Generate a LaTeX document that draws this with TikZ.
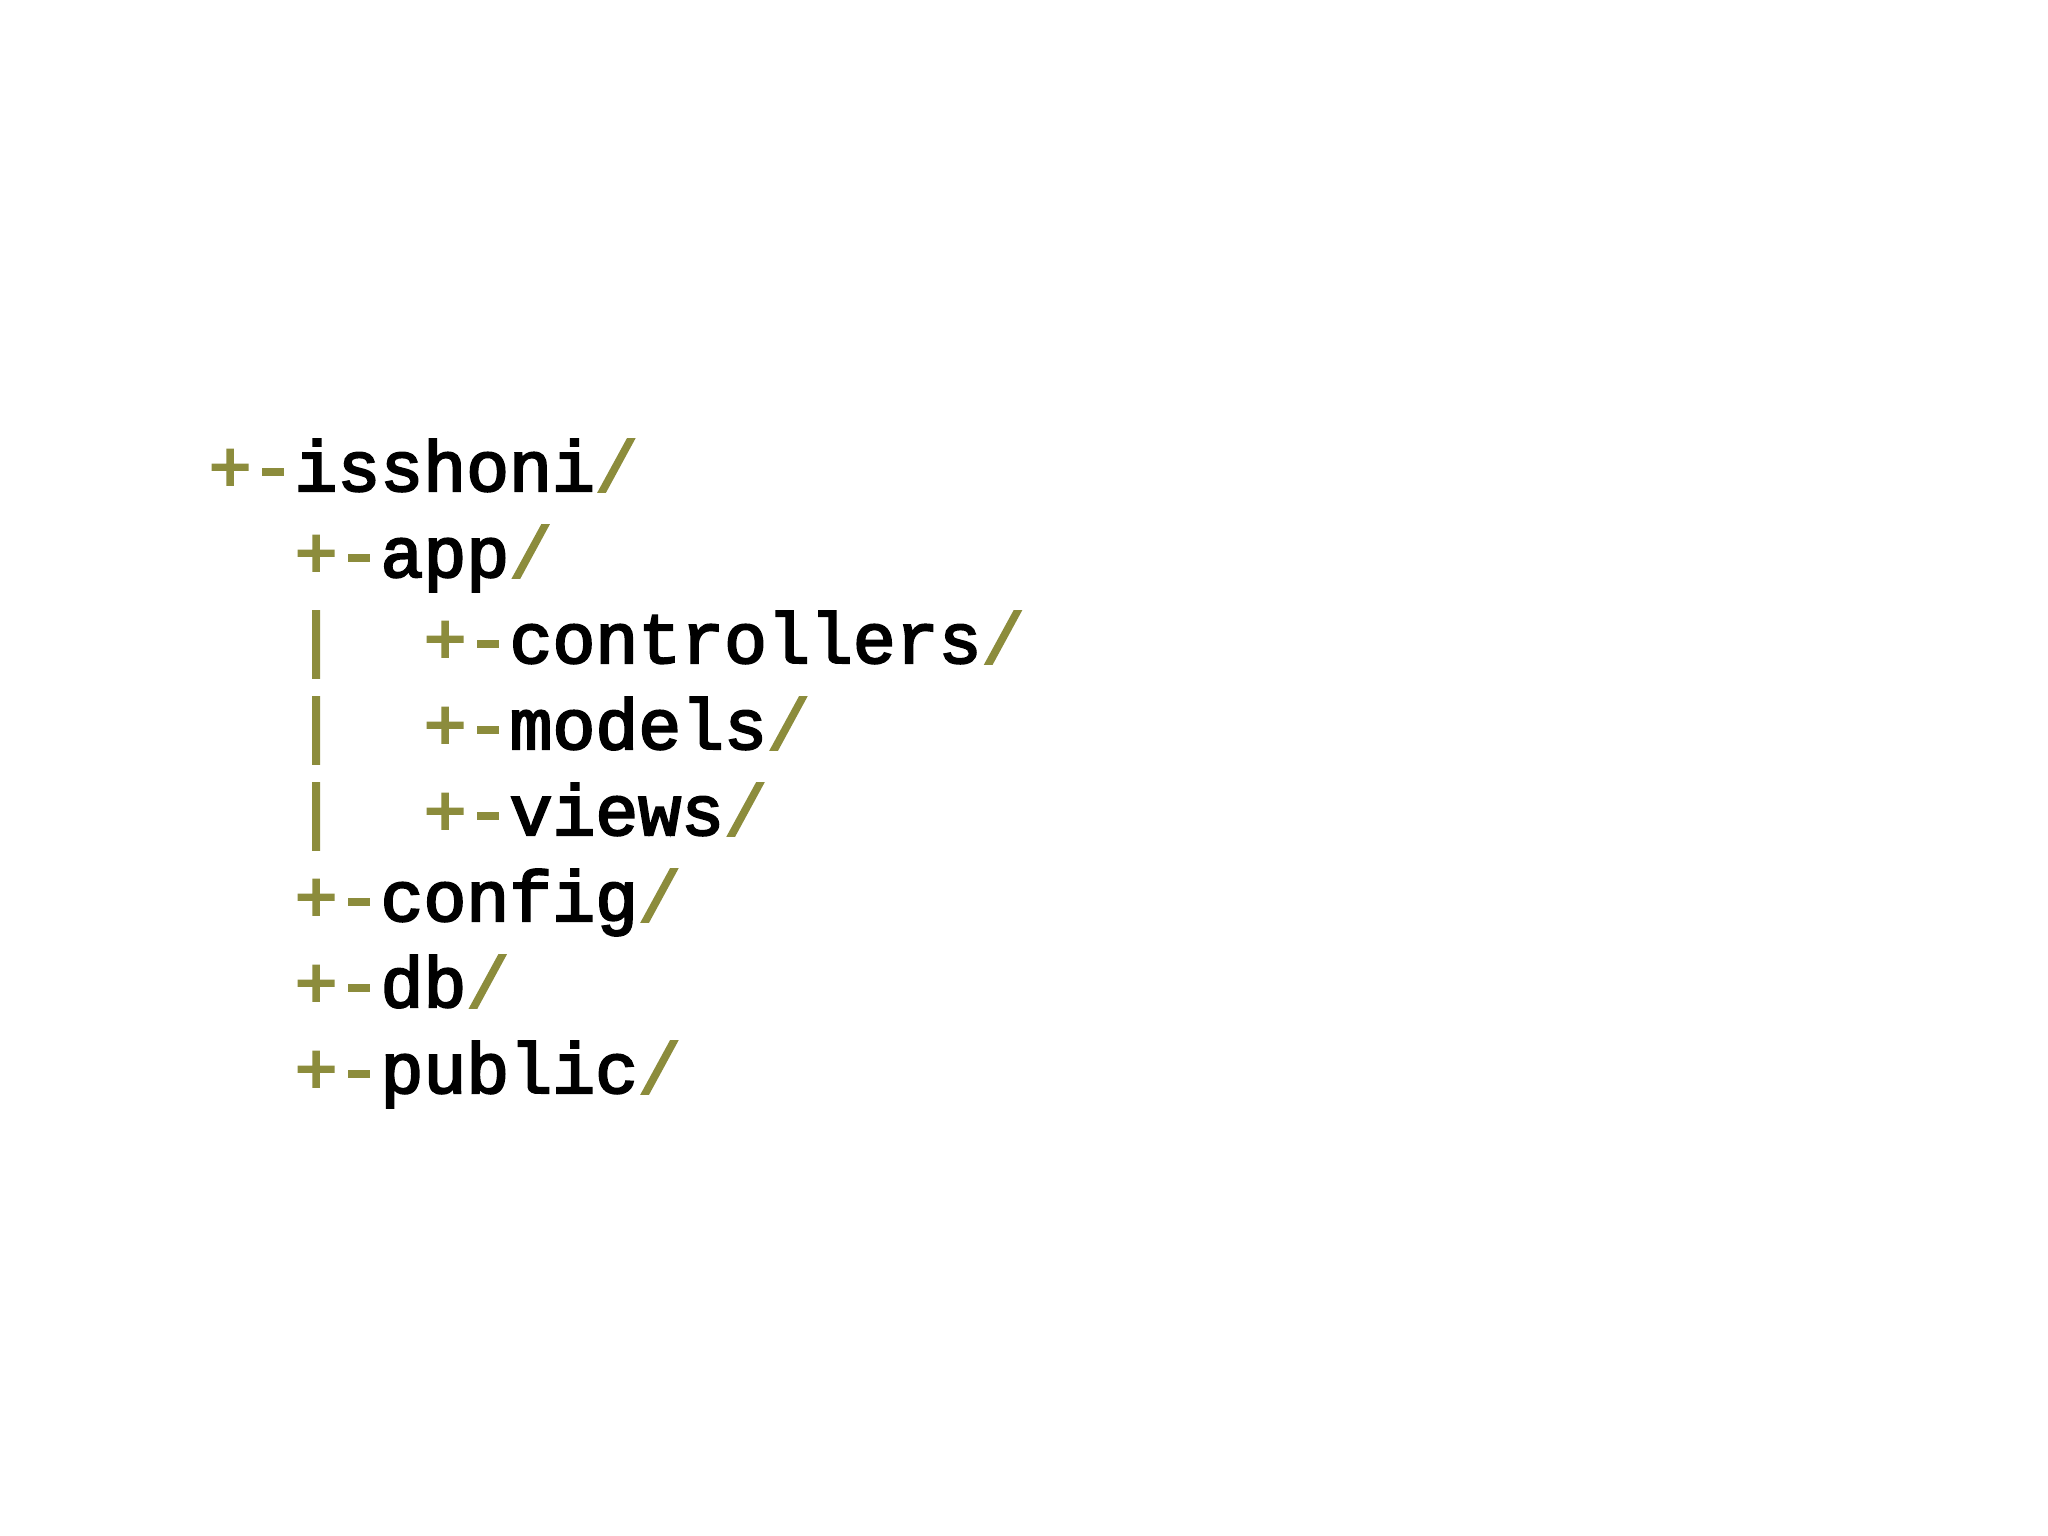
\documentclass[tikz,border=0pt]{standalone}
\usepackage{fontspec}
\setmonofont{Liberation Mono}[BoldFont={Liberation Mono}, BoldFeatures={FakeBold=3}]
\usetikzlibrary{positioning}
\definecolor{OLIVE}{HTML}{8C8C3C}
\definecolor{BLACK}{HTML}{000000}
\newcommand{\tr}[1]{\textcolor{OLIVE}{#1}}
\newcommand{\cw}{0.430}

\begin{document}
\begin{tikzpicture}[
    entry/.style={anchor=base west, inner sep=0pt, BLACK,
        font=\ttfamily\bfseries\fontsize{20.35}{24}\selectfont}]
    \useasboundingbox (0,0) rectangle (20.48,-15.36);
    % root
    \node[entry] (root) at (2.08,-4.91) {\tr{+-}isshoni\tr{/}};
    % first level
    \node[entry] (app) at (2.08+2*\cw,-5.77) {\tr{+-}app\tr{/}};
    \node[entry] (bara) at (2.08+2*\cw,-6.63) {\tr{|}};
    \node[entry] (ctrl) at (2.08+5*\cw,-6.63) {\tr{+-}controllers\tr{/}};
    \node[entry] (barb) at (2.08+2*\cw,-7.49) {\tr{|}};
    \node[entry] (models) at (2.08+5*\cw,-7.49) {\tr{+-}models\tr{/}};
    \node[entry] (barc) at (2.08+2*\cw,-8.35) {\tr{|}};
    \node[entry] (views) at (2.08+5*\cw,-8.35) {\tr{+-}views\tr{/}};
    \node[entry] (config) at (2.08+2*\cw,-9.21) {\tr{+-}config\tr{/}};
    \node[entry] (db) at (2.08+2*\cw,-10.07) {\tr{+-}db\tr{/}};
    \node[entry] (public) at (2.08+2*\cw,-10.93) {\tr{+-}public\tr{/}};
\end{tikzpicture}
\end{document}
